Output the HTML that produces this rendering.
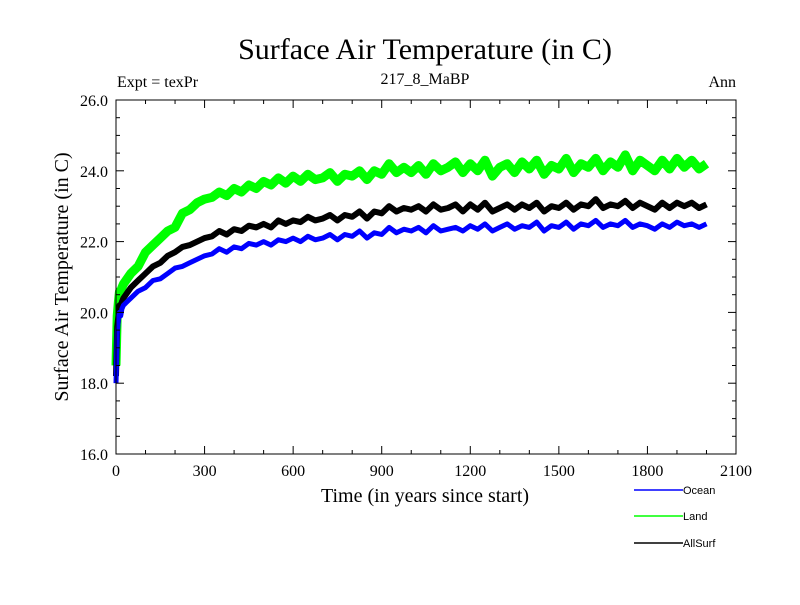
<!DOCTYPE html>
<html><head><meta charset="utf-8"><style>
body{margin:0;background:#fff}
svg text{font-family:"Liberation Serif",serif}
</style></head><body>
<svg id="chart" width="800" height="600" xmlns="http://www.w3.org/2000/svg">
<rect width="800" height="600" fill="#fff"/>
<text x="425" y="59" font-size="30" text-anchor="middle">Surface Air Temperature (in C)</text>
<text x="117" y="87" font-size="16">Expt = texPr</text>
<text x="425" y="84" font-size="16" text-anchor="middle">217_8_MaBP</text>
<text x="736" y="87" font-size="16" text-anchor="end">Ann</text>
<text x="425" y="502" font-size="20" text-anchor="middle">Time (in years since start)</text>
<text transform="translate(68,277) rotate(-90)" font-size="20" text-anchor="middle">Surface Air Temperature (in C)</text>
<g id="plot"></g>
<g id="axes"></g>
<g id="legend"></g>
</svg>
<script>
const years=[0,4,8,12,16,20,25,50,75,100,125,150,175,200,225,250,275,300,325,350,375,400,425,450,475,500,525,550,575,600,625,650,675,700,725,750,775,800,825,850,875,900,925,950,975,1000,1025,1050,1075,1100,1125,1150,1175,1200,1225,1250,1275,1300,1325,1350,1375,1400,1425,1450,1475,1500,1525,1550,1575,1600,1625,1650,1675,1700,1725,1750,1775,1800,1825,1850,1875,1900,1925,1950,1975,2000];
const ocean=[18.0,19.4,19.8,20.0,19.9,20.1,20.2,20.4,20.6,20.7,20.9,20.95,21.1,21.25,21.3,21.4,21.5,21.6,21.65,21.8,21.7,21.85,21.8,21.95,21.9,22.0,21.9,22.05,22.0,22.1,22.0,22.15,22.05,22.1,22.2,22.05,22.2,22.15,22.3,22.1,22.25,22.2,22.4,22.25,22.35,22.3,22.4,22.25,22.45,22.3,22.35,22.4,22.3,22.45,22.35,22.5,22.3,22.4,22.5,22.35,22.45,22.4,22.55,22.3,22.45,22.4,22.55,22.35,22.5,22.45,22.6,22.4,22.5,22.45,22.6,22.4,22.5,22.45,22.35,22.5,22.4,22.55,22.45,22.5,22.4,22.5];
const land=[18.5,19.9,20.3,20.6,20.4,20.7,20.8,21.1,21.3,21.7,21.9,22.1,22.3,22.4,22.8,22.9,23.1,23.2,23.25,23.4,23.3,23.5,23.4,23.6,23.5,23.7,23.6,23.8,23.65,23.85,23.7,23.9,23.75,23.8,23.95,23.7,23.9,23.85,24.0,23.75,24.0,23.9,24.2,23.95,24.1,23.95,24.15,23.9,24.2,24.0,24.1,24.25,23.95,24.2,24.0,24.3,23.85,24.1,24.2,23.95,24.25,24.05,24.3,23.9,24.15,24.05,24.35,23.95,24.2,24.1,24.35,24.0,24.25,24.1,24.45,24.0,24.3,24.15,24.0,24.3,24.05,24.35,24.1,24.3,24.05,24.2];
const allSurf=[18.2,19.6,19.9,20.2,20.1,20.3,20.4,20.7,20.9,21.1,21.3,21.4,21.6,21.7,21.85,21.9,22.0,22.1,22.15,22.3,22.2,22.35,22.3,22.45,22.4,22.5,22.4,22.6,22.5,22.6,22.55,22.7,22.6,22.65,22.75,22.6,22.75,22.7,22.85,22.65,22.85,22.8,23.0,22.85,22.95,22.9,23.0,22.85,23.05,22.9,22.95,23.05,22.85,23.05,22.9,23.1,22.85,22.95,23.05,22.9,23.05,22.95,23.1,22.85,23.0,22.95,23.1,22.9,23.05,23.0,23.2,22.95,23.05,23.0,23.15,22.95,23.1,23.0,22.9,23.1,22.95,23.1,23.0,23.1,22.95,23.05];
const xTicks=[0,300,600,900,1200,1500,1800,2100];
const yTicks=[16.0,18.0,20.0,22.0,24.0,26.0];

const NS='http://www.w3.org/2000/svg';
const L=116,R=736,T=100,B=454,X0=0,X1=2100,Y0=16,Y1=26;
const xs=v=>L+(v-X0)/(X1-X0)*(R-L);
const ys=v=>B-(v-Y0)/(Y1-Y0)*(B-T);
function mk(tag,attrs,parent){const e=document.createElementNS(NS,tag);for(const k in attrs)e.setAttribute(k,attrs[k]);parent.appendChild(e);return e;}
const plot=document.getElementById('plot'),axes=document.getElementById('axes'),leg=document.getElementById('legend');
const series=[['land',land,'#00ff00',9],['allsurf',allSurf,'#000000',6],['ocean',ocean,'#0000ff',5]];
series.forEach(s=>{
  const d=years.map((y,i)=>(i?'L':'M')+xs(y).toFixed(1)+','+ys(s[1][i]).toFixed(1)).join('');
  const p=mk('path',{d:d,fill:'none',stroke:s[2],'stroke-width':s[3],'stroke-linejoin':'round'},plot);
  
  
});
const fr=mk('rect',{x:L,y:T,width:R-L,height:B-T,fill:'none',stroke:'#000','stroke-width':1},axes);


for(let v=0;v<=2100;v+=100){const maj=v%300===0,len=maj?8:4;const x=xs(v);
  mk('line',{x1:x,x2:x,y1:B,y2:B-len,stroke:'#000'},axes);mk('line',{x1:x,x2:x,y1:T,y2:T+len,stroke:'#000'},axes);}
for(let v=16;v<=26.001;v+=0.5){const maj=Math.abs(v-Math.round(v/2)*2)<1e-6,len=maj?8:4;const y=ys(v);
  mk('line',{x1:L,x2:L+len,y1:y,y2:y,stroke:'#000'},axes);mk('line',{x1:R,x2:R-len,y1:y,y2:y,stroke:'#000'},axes);}
xTicks.forEach(v=>{const t=mk('text',{x:xs(v),y:B+22,'font-size':16,'text-anchor':'middle'},axes);t.textContent=String(v);
  
  });
yTicks.forEach(v=>{const t=mk('text',{x:L-8,y:ys(v)+6,'font-size':16,'text-anchor':'end'},axes);t.textContent=v.toFixed(1);
  
  });
const legItems=[['Ocean','#0000ff',490],['Land','#00ff00',516],['AllSurf','#000000',543]];
legItems.forEach(li=>{
  const g=mk('g',{},leg);
  
  
  mk('line',{x1:634,x2:683,y1:li[2],y2:li[2],stroke:li[1],'stroke-width':1.5},g);
  const t=mk('text',{x:683,y:li[2]+4,'font-size':11,style:'font-family:"Liberation Sans",sans-serif'},g);t.textContent=li[0];
});
</script>
</body></html>
